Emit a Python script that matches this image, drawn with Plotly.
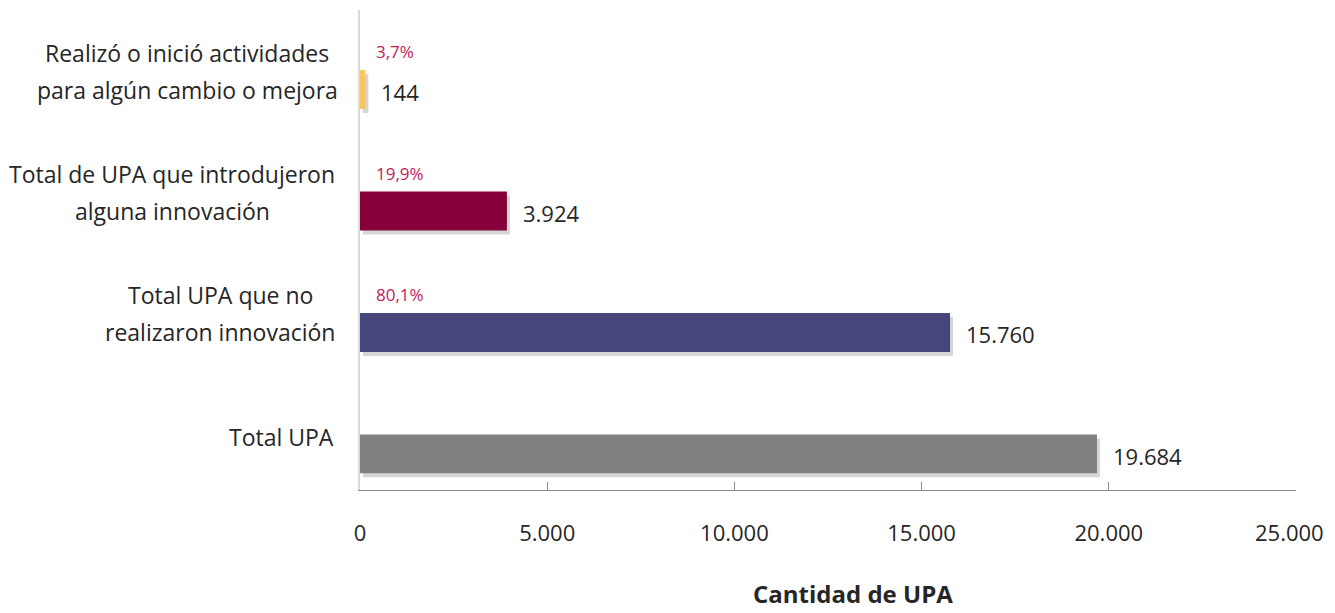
import plotly.graph_objects as go

# datos (de abajo hacia arriba)
categorias = [
    "Total UPA",
    "Total UPA que no<br>realizaron innovación",
    "Total de UPA que introdujeron<br>alguna innovación",
    "Realizó o inició actividades<br>para algún cambio o mejora",
]
valores = [19684, 15760, 3924, 144]
porcentajes = ["", "80,1%", "19,9%", "3,7%"]
colores = ["#808080", "#46467A", "#86003A", "#FBC55E"]
ticks_x = [0, 5000, 10000, 15000, 20000, 25000]

# centro horizontal (px de pantalla) de cada etiqueta de categoría
centro_etiqueta = [281, 220, 172, 187]

FUENTE = "Open Sans, Noto Sans, sans-serif"
TEXTO = "#262626"
OFF = 8  # margen por defecto del <body>
W, H = 1335 - OFF, 613 - OFF
L, R, T, B = 352, 39, 2, 123
ANCHO_BARRA = 0.32
PX_Y = (H - T - B) / 3.952  # px por unidad de categoría
PX_X = (W - L - R) / 25000


def paper_x(px):
    return (px - OFF - L) / (W - L - R)


def fmt(v):
    return f"{v:,}".replace(",", ".")


fig = go.Figure()

# sombra suave detrás de las barras
fig.add_trace(go.Bar(
    y=categorias, x=valores, orientation="h",
    base=3 / PX_X, width=ANCHO_BARRA,
    offset=-ANCHO_BARRA / 2 - 4 / PX_Y,
    marker=dict(color="rgba(0,0,0,0.16)", line=dict(width=0)),
    hoverinfo="skip", showlegend=False,
))

fig.add_trace(go.Bar(
    y=categorias, x=valores, orientation="h",
    width=ANCHO_BARRA, offset=-ANCHO_BARRA / 2,
    marker=dict(color=colores, line=dict(width=0)),
    showlegend=False,
    hovertemplate="%{x:,}<extra></extra>",
))

# etiquetas de valor
for cat, v in zip(categorias, valores):
    fig.add_annotation(
        x=v, y=cat, text=fmt(v),
        xanchor="left", xshift=14, yshift=-2, showarrow=False,
        font=dict(size=22, color=TEXTO, family=FUENTE),
    )

# porcentajes sobre las barras
for cat, p in zip(categorias, porcentajes):
    if p:
        fig.add_annotation(
            x=0, y=cat, text=p, xanchor="left", xshift=14, yshift=38,
            showarrow=False,
            font=dict(size=17, color="#C2185B", family=FUENTE),
        )

# etiquetas de categoría (una anotación por línea)
for cat, cx in zip(categorias, centro_etiqueta):
    lineas = cat.split("<br>")
    shifts = [17] if len(lineas) == 1 else [37, 0]
    for txt, ys in zip(lineas, shifts):
        fig.add_annotation(
            x=paper_x(cx), xref="paper", y=cat, yshift=ys,
            text=txt, xanchor="center", showarrow=False,
            font=dict(size=23, color=TEXTO, family=FUENTE),
        )

# última etiqueta del eje x, pegada al borde para que no se corte
fig.add_annotation(
    x=ticks_x[-1], y=0, yref="paper", text=fmt(ticks_x[-1]),
    xanchor="right", xshift=30, yanchor="middle", yshift=-42,
    showarrow=False, font=dict(size=22, color=TEXTO, family=FUENTE),
)

fig.add_annotation(
    x=paper_x(853), xref="paper", y=-0.216, yref="paper",
    yanchor="middle", text="<b>Cantidad de UPA</b>", showarrow=False,
    font=dict(size=24, color=TEXTO, family=FUENTE),
)

fig.update_layout(
    width=W, height=H,
    margin=dict(l=L, r=R, t=T, b=B, autoexpand=False),
    paper_bgcolor="white", plot_bgcolor="white",
    font=dict(family=FUENTE, color=TEXTO),
    separators=",.",
    barmode="overlay",
    xaxis=dict(
        range=[0, 25000], tickmode="array", tickvals=ticks_x,
        ticktext=[fmt(t) for t in ticks_x[:-1]] + [""],
        showgrid=False, zeroline=False, automargin=False,
        showline=True, linecolor="#8C8C8C", linewidth=1,
        ticks="inside", ticklen=8, tickcolor="#8C8C8C",
        ticklabelstandoff=24,
        tickfont=dict(size=22, color=TEXTO, family=FUENTE),
    ),
    yaxis=dict(
        type="category", categoryorder="array", categoryarray=categorias,
        range=[-0.297, 3.655], automargin=False,
        showticklabels=False, showgrid=False, zeroline=False,
        showline=True, linecolor="#D9D9D9", linewidth=2, ticks="",
    ),
)

fig.write_html("out.html")
